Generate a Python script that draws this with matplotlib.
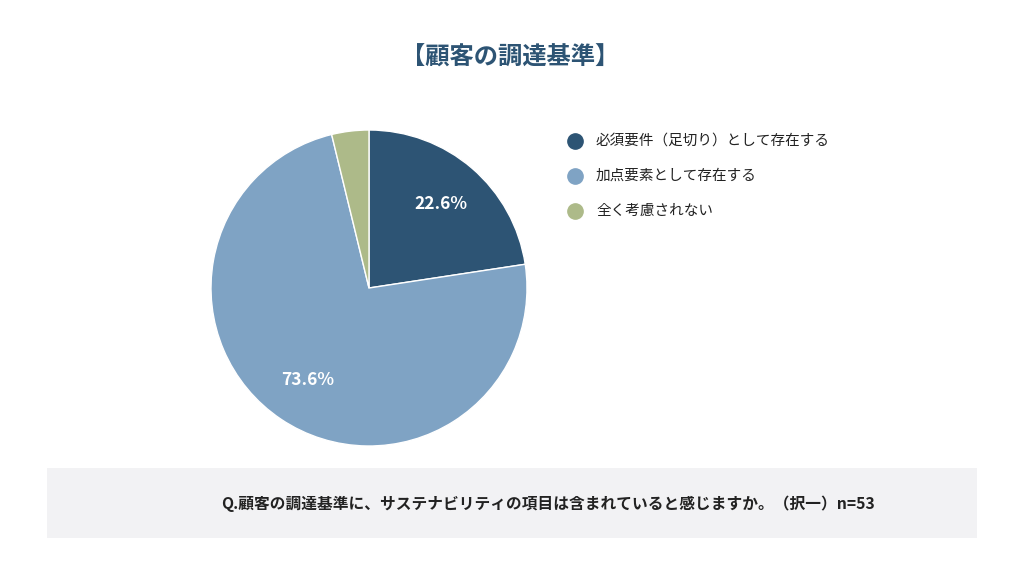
import matplotlib.pyplot as plt
from matplotlib.patches import Rectangle
from matplotlib.lines import Line2D

plt.rcParams['font.family'] = ['Noto Sans CJK JP', 'DejaVu Sans']

labels = ['必須要件（足切り）として存在する', '加点要素として存在する', '全く考慮されない']
values = [22.6, 73.6, 3.8]
colors = ['#2d5474', '#7fa3c4', '#adba89']
title = '【顧客の調達基準】'
question = 'Q.顧客の調達基準に、サステナビリティの項目は含まれていると感じますか。（択一）n=53'

W, H = 1024, 576
fig = plt.figure(figsize=(W / 100, H / 100), dpi=100)

# pie: center (369, 288), radius 158 px
r = 158
ax = fig.add_axes([(369 - r) / W, 1 - (288 + r) / H, 2 * r / W, 2 * r / H])
wedges, _, autotexts = ax.pie(values, colors=colors, startangle=90, counterclock=False,
                              autopct=lambda p: f'{p:.1f}%' if p > 5 else '',
                              pctdistance=0.7, radius=1,
                              wedgeprops=dict(edgecolor='white', linewidth=1))
for t in autotexts:
    t.set_color('white')
    t.set_fontsize(12.5)
    t.set_fontweight('bold')
ax.set_xlim(-1, 1)
ax.set_ylim(-1, 1)
ax.set_aspect('equal')

fig.text(510 / W, 1 - 58 / H, title, ha='center', va='center', fontsize=17.5,
         fontweight='bold', color='#2d5474')

# legend
for i, (lab, c) in enumerate(zip(labels, colors)):
    y = 1 - (141 + 35 * i) / H
    fig.add_artist(Line2D([575 / W], [y], marker='o', markersize=11, color=c,
                          linestyle='none', transform=fig.transFigure))
    fig.text(596 / W, y, lab, ha='left', va='center', fontsize=10.5, color='#222222')

# question box
fig.add_artist(Rectangle((47 / W, 1 - 538 / H), 930 / W, 70 / H, facecolor='#f2f2f4',
                         edgecolor='none', transform=fig.transFigure, zorder=0))
fig.text(548 / W, 1 - 504 / H, question, ha='center', va='center', fontsize=11.3,
         fontweight='bold', color='#222222')

fig.savefig('out.png', dpi=100)
